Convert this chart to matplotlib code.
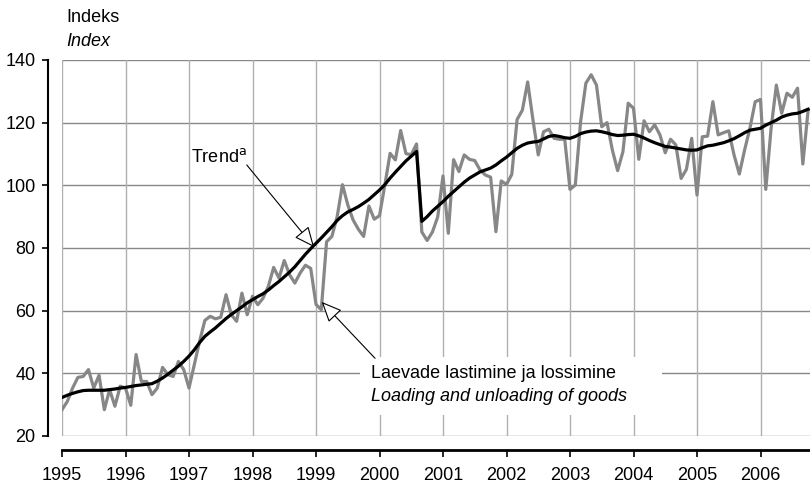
import numpy as np
import matplotlib
matplotlib.use("Agg")
import matplotlib.pyplot as plt
from matplotlib.patches import Rectangle

plt.rcParams['font.family'] = ['Liberation Sans', 'DejaVu Sans']

start_year = 1995
# Monthly index values, Jan 1995 ... Oct 2006
monthly = [28.4, 31.0, 35.3, 38.7, 39.0, 41.2, 35.3, 39.4, 28.4, 34.8, 29.5, 35.9,
           35.3, 29.8, 46.0, 37.4, 37.4, 33.2, 35.3, 41.9, 39.6, 39.0, 43.8, 41.2,
           35.3, 42.8, 50.2, 56.9, 58.2, 57.4, 57.9, 65.1, 58.7, 56.6, 65.6, 58.7,
           64.6, 61.9, 64.0, 67.8, 73.8, 70.4, 76.0, 71.5, 68.8, 72.0, 74.5, 73.5,
           62.0, 60.3, 82.0, 83.7, 90.0, 100.2, 93.8, 89.0, 86.0, 83.7, 93.4, 89.2,
           90.3, 100.0, 110.2, 108.1, 117.5, 110.1, 109.8, 113.2, 85.1, 82.4, 85.1, 89.9,
           103.0, 84.7, 108.2, 104.4, 109.7, 108.3, 107.9, 104.9, 103.3, 102.6, 85.2, 101.4,
           100.3, 103.5, 121.0, 124.0, 133.0, 120.9, 109.7, 117.1, 117.9, 115.0, 114.7, 114.7,
           98.7, 100.1, 120.3, 132.6, 135.3, 132.0, 118.7, 120.0, 111.3, 104.7, 110.7, 126.2,
           124.6, 108.3, 120.6, 117.1, 119.3, 116.1, 110.4, 114.7, 112.9, 102.2, 105.1, 115.0,
           96.9, 115.5, 115.7, 126.7, 116.1, 116.8, 117.4, 109.7, 103.6, 111.3, 118.2, 126.7,
           127.4, 98.7, 118.2, 132.0, 123.0, 129.4, 128.1, 131.0, 106.8, 124.0]

trend = [32.3, 33.0, 33.6, 34.1, 34.5, 34.6, 34.6, 34.6, 34.6, 34.8, 35.0, 35.3,
         35.5, 35.8, 36.1, 36.3, 36.5, 36.7, 37.5, 38.5, 39.7, 41.0, 42.3, 43.8,
         45.5, 47.5, 49.8, 51.8, 53.2, 54.5, 56.0, 57.5, 58.8, 60.0, 61.2, 62.5,
         63.5, 64.5, 65.4, 66.6, 68.0, 69.3, 70.8, 72.3, 74.0, 76.0, 78.0, 79.8,
         81.5, 83.2, 85.0, 86.8, 88.8, 90.3, 91.5, 92.3, 93.2, 94.3, 95.5, 97.0,
         98.5, 100.2, 102.3, 104.2, 106.0, 107.8, 109.3, 110.8, 88.5, 90.0, 91.8, 93.3,
         94.8, 96.5, 98.0, 99.5, 101.0, 102.3, 103.3, 104.3, 104.9, 105.5, 106.5, 107.8,
         109.0, 110.4, 111.8, 112.8, 113.5, 113.8, 114.0, 114.8, 115.6, 115.9, 115.6, 115.2,
         115.0, 115.6, 116.5, 117.0, 117.3, 117.4, 117.1, 116.7, 116.2, 115.9, 116.0, 116.2,
         116.3, 115.8, 115.1, 114.3, 113.6, 113.0, 112.4, 112.2, 111.9, 111.6, 111.3, 111.2,
         111.3, 112.0, 112.6, 112.8, 113.2, 113.6, 114.2, 114.9, 115.8, 116.8, 117.6, 117.9,
         118.2, 119.2, 120.0, 120.8, 121.8, 122.4, 122.8, 123.0, 123.6, 124.3]

years = list(range(1995, 2007))
yticks = [20, 40, 60, 80, 100, 120, 140]

x = start_year + np.arange(len(monthly)) / 12.0

W, H = 810, 483
FS = 13
fig = plt.figure(figsize=(W / 100, H / 100), dpi=100)
ax = fig.add_axes([62 / W, 1 - 436 / H, (810 - 62) / W, (436 - 60) / H])

ax.set_xlim(1995, 1995 + 748 / 63.5)
ax.set_ylim(20, 140)

# grid
for yv in yticks:
    ax.axhline(yv, color='#888888', lw=1.0, zorder=1)
for yr in years:
    ax.axvline(yr, color='#b0b0b0', lw=1.0, zorder=1)

ax.plot(x, monthly, color='#878787', lw=2.3, zorder=3)
ax.plot(x, trend, color='black', lw=2.3, zorder=4)

for s in ['top', 'right']:
    ax.spines[s].set_visible(False)
ax.spines['left'].set_position(('outward', 10))
ax.spines['bottom'].set_position(('outward', 10))
ax.spines['left'].set_linewidth(1.5)
ax.spines['bottom'].set_linewidth(2.0)

ax.set_yticks(yticks)
ax.set_yticklabels([str(v) for v in yticks])
ax.set_xticks(years)
ax.set_xticklabels([str(v) for v in years])
ax.tick_params(axis='y', length=4, width=1.2, pad=5, labelsize=FS)
ax.tick_params(axis='x', length=5, width=1.2, pad=7, labelsize=FS)

fig.text(66 / W, 1 - 17 / H, 'Indeks', fontsize=FS, va='center', ha='left')
fig.text(66 / W, 1 - 42 / H, 'Index', fontsize=FS, style='italic', va='center', ha='left')

arrow = dict(arrowstyle='-|>,head_length=0.9,head_width=0.4', fc='white', ec='black',
             lw=0.8, mutation_scale=14, shrinkA=0, shrinkB=0)

ax.annotate('', xy=(1998.97, 80.3), xytext=(1997.91, 106.5), arrowprops=arrow, zorder=6)
ax.text(1997.91, 109.0, 'Trend$^{\\mathrm{a}}$', fontsize=FS, ha='right', va='center', zorder=6)

ax.annotate('', xy=(1999.09, 62.8), xytext=(1999.93, 44.8), arrowprops=arrow, zorder=6)
# white background behind the series label
ax.add_patch(Rectangle((1999.70, 26.7), 4.75, 18.5, fc='white', ec='none', zorder=2))
ax.text(1999.87, 40.0, 'Laevade lastimine ja lossimine', fontsize=FS, ha='left',
        va='center', zorder=5)
ax.text(1999.87, 32.7, 'Loading and unloading of goods', fontsize=FS, style='italic',
        ha='left', va='center', zorder=5)

fig.savefig('out.png', dpi=100)
